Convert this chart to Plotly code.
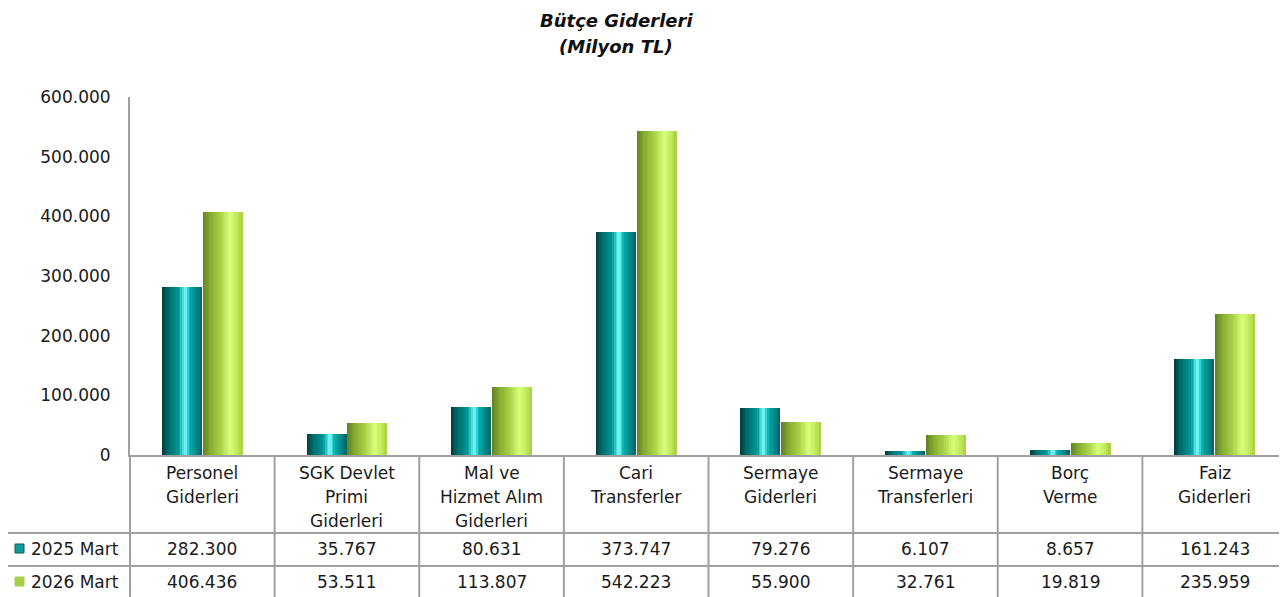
import plotly.graph_objects as go

# ---------------- data ----------------
categories = [
    "Personel\nGiderleri",
    "SGK Devlet\nPrimi\nGiderleri",
    "Mal ve\nHizmet Alım\nGiderleri",
    "Cari\nTransferler",
    "Sermaye\nGiderleri",
    "Sermaye\nTransferleri",
    "Borç\nVerme",
    "Faiz\nGiderleri",
]
series_names = ["2025 Mart", "2026 Mart"]
values_2025 = [282300, 35767, 80631, 373747, 79276, 6107, 8657, 161243]
values_2026 = [406436, 53511, 113807, 542223, 55900, 32761, 19819, 235959]
y_ticks = [0, 100000, 200000, 300000, 400000, 500000, 600000]
title_lines = ["Bütçe Giderleri", "(Milyon TL)"]

# ---------------- style ----------------
OFF = 8  # page body margin in the browser
VIEW_W, VIEW_H = 1287, 597
FIG_W, FIG_H = VIEW_W - OFF, VIEW_H - OFF
ML, MR, MT, MB = 130 - OFF, 0, 97 - OFF, VIEW_H - 455
PW, PH = FIG_W - ML - MR, FIG_H - MT - MB
FONT = "DejaVu Sans"
TXT = "#1a1a1a"
LINE = "#a0a0a0"

teal_stops = [(0.0, (0, 58, 58)), (0.15, (0, 105, 105)), (0.42, (0, 152, 152)),
              (0.58, (125, 255, 255)), (0.70, (0, 172, 172)), (1.0, (0, 100, 100))]
green_stops = [(0.0, (96, 128, 34)), (0.18, (134, 170, 48)), (0.45, (170, 210, 72)),
               (0.68, (216, 255, 122)), (0.85, (194, 234, 94)), (1.0, (168, 206, 64))]
legend_colors = ["#129a9a", "#a6cf48"]


def interp(stops, t):
    for (p0, c0), (p1, c1) in zip(stops[:-1], stops[1:]):
        if p0 <= t <= p1:
            f = (t - p0) / (p1 - p0) if p1 > p0 else 0
            c = [round(a + (b - a) * f) for a, b in zip(c0, c1)]
            return "rgb(%d,%d,%d)" % tuple(c)
    return "rgb(%d,%d,%d)" % stops[-1][1]


def px_to_paper_x(px):
    return (px - OFF - ML) / PW


def px_to_paper_y(py):
    return (FIG_H - MB - (py - OFF)) / PH


def fmt(v):
    return f"{v:,.0f}".replace(",", ".")


fig = go.Figure()
xs = list(range(len(categories)))
bar_w = 40 / (PW / len(categories))
N = 24
series = [(values_2025, teal_stops, -bar_w - 0.003), (values_2026, green_stops, 0.003)]
for vals, stops, start in series:
    dw = bar_w / N
    for k in range(N):
        fig.add_trace(go.Bar(
            x=xs, y=vals, offset=start + k * dw, width=bar_w - k * dw,
            marker=dict(color=interp(stops, (k + 0.5) / N), line=dict(width=0)),
            showlegend=False, hoverinfo="skip",
        ))

shapes = []
ann = []

# table lines
y533 = px_to_paper_y(533)
y566 = px_to_paper_y(566)
ybot = px_to_paper_y(VIEW_H)
xl = px_to_paper_x(7)
for yy in (y533, y566):
    shapes.append(dict(type="line", xref="paper", yref="paper", x0=xl, x1=1, y0=yy, y1=yy,
                       line=dict(color=LINE, width=2)))
for i in range(len(categories)):
    xx = i / len(categories)
    shapes.append(dict(type="line", xref="paper", yref="paper", x0=xx, x1=xx, y0=0, y1=ybot,
                       line=dict(color=LINE, width=2)))
shapes.append(dict(type="line", xref="paper", yref="paper", x0=xl, x1=xl, y0=y533, y1=ybot,
                   line=dict(color=LINE, width=2)))

# category labels
for i, cat in enumerate(categories):
    for j, line in enumerate(cat.split("\n")):
        ann.append(dict(x=i, xref="x", y=px_to_paper_y(473 + 24 * j), yref="paper",
                        text=line, showarrow=False, xanchor="center", yanchor="middle",
                        font=dict(family=FONT, size=17, color=TXT)))

# value rows + legend keys
row_centers = [549, 582]
for r, (name, vals) in enumerate(zip(series_names, [values_2025, values_2026])):
    yc = row_centers[r]
    for i, v in enumerate(vals):
        ann.append(dict(x=i, xref="x", y=px_to_paper_y(yc), yref="paper", text=fmt(v),
                        showarrow=False, xanchor="center", yanchor="middle",
                        font=dict(family=FONT, size=17, color=TXT)))
    ann.append(dict(x=px_to_paper_x(29), xref="paper", y=px_to_paper_y(yc), yref="paper",
                    text=name, showarrow=False, xanchor="left", yanchor="middle",
                    font=dict(family=FONT, size=17, color=TXT)))
    shapes.append(dict(type="rect", xref="paper", yref="paper",
                       x0=px_to_paper_x(15), x1=px_to_paper_x(24),
                       y0=px_to_paper_y(yc - 5), y1=px_to_paper_y(yc + 4),
                       fillcolor=legend_colors[r],
                       line=dict(color="#0b5e5e" if r == 0 else legend_colors[r], width=1)))

# title
for j, t in enumerate(title_lines):
    ann.append(dict(x=px_to_paper_x(616), xref="paper", y=px_to_paper_y(20 + 26 * j), yref="paper",
                    text=f"<b><i>{t}</i></b>", showarrow=False, xanchor="center", yanchor="middle",
                    font=dict(family=FONT, size=18, color="#111111")))

fig.update_layout(
    width=FIG_W, height=FIG_H, autosize=False,
    margin=dict(l=ML, r=MR, t=MT, b=MB, pad=0),
    paper_bgcolor="white", plot_bgcolor="white",
    barmode="overlay", bargap=0, hovermode=False,
    separators=",.",
    showlegend=False,
    shapes=shapes, annotations=ann,
    xaxis=dict(range=[-0.5, len(categories) - 0.5], showticklabels=False, ticks="",
               showgrid=False, zeroline=False, showline=True, linecolor=LINE, linewidth=2,
               fixedrange=True),
    yaxis=dict(range=[0, 600000], tickvals=y_ticks, tickformat=",d", showgrid=False,
               zeroline=False, showline=True, linecolor=LINE, linewidth=2,
               ticks="outside", ticklen=14, tickcolor="rgba(0,0,0,0)",
               tickfont=dict(family=FONT, size=17, color=TXT), fixedrange=True),
)

fig.write_html("out.html")
